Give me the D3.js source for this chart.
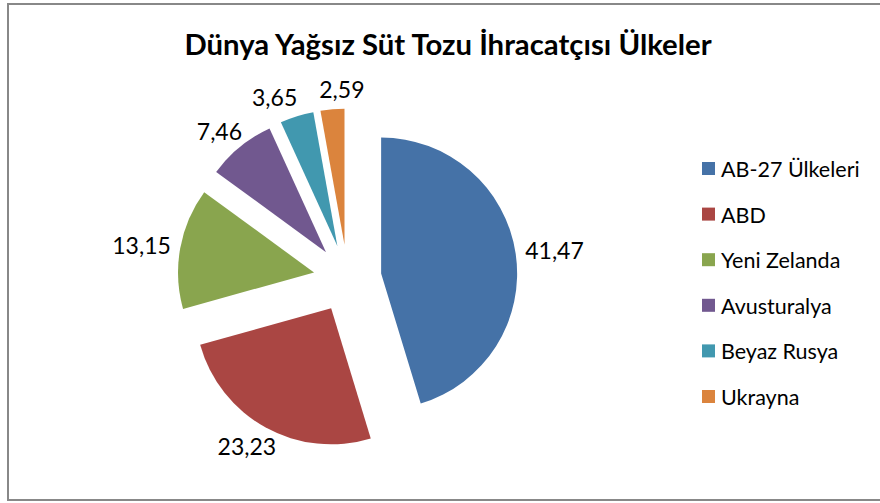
<!DOCTYPE html>
<html>
<head>
<meta charset="utf-8">
<script src="https://cdn.jsdelivr.net/npm/d3@7"></script>
<style>
  body { margin: 0; background: #fff; }
  text { font-family: Lato, "Open Sans", sans-serif; fill: #000; }
</style>
</head>
<body>
<div id="chart"></div>
<script>
// Dünya yağsız süt tozu ihracatçısı ülkeler (pay, %)
var countries = ["AB-27 Ülkeleri", "ABD", "Yeni Zelanda", "Avusturalya", "Beyaz Rusya", "Ukrayna"];
var shares = [41.47, 23.23, 13.15, 7.46, 3.65, 2.59];
var colors = ["#4572A7", "#AA4643", "#89A54E", "#71588F", "#4198AF", "#DB843D"];
var titleText = "Dünya Yağsız Süt Tozu İhracatçısı Ülkeler";

var svgW = 880;
var svgH = 503;

var svg = d3.select("#chart")
  .append("svg")
  .attr("width", svgW)
  .attr("height", svgH);

// chart area border
svg.append("rect")
  .attr("x", 8)
  .attr("y", 4)
  .attr("width", svgW + 20)
  .attr("height", 496)
  .attr("fill", "#fff")
  .attr("stroke", "#888")
  .attr("stroke-width", 2);

// title
svg.append("text")
  .attr("x", 448)
  .attr("y", 55)
  .attr("text-anchor", "middle")
  .attr("font-size", "29.3px")
  .attr("font-weight", "bold")
  .text(titleText);

// pie
var cx = 347.5, cy = 278.5;
var radius = 136;
var explode = 34;

var pie = d3.pie().sort(null).value(d => d);
var arc = d3.arc().innerRadius(0).outerRadius(radius);
var slices = pie(shares);

function mid(d) { return (d.startAngle + d.endAngle) / 2; }

var pieGroup = svg.append("g")
  .attr("transform", `translate(${cx}, ${cy})`);

pieGroup.selectAll("path")
  .data(slices)
  .enter()
  .append("path")
  .attr("d", arc)
  .attr("fill", (d, i) => colors[i])
  .attr("transform", d => {
    var a = mid(d);
    return `translate(${explode * Math.sin(a)}, ${-explode * Math.cos(a)})`;
  });

// data labels (outside end)
var labels = pieGroup.selectAll("text.lbl")
  .data(slices)
  .enter()
  .append("text")
  .attr("class", "lbl")
  .attr("font-size", "23px")
  .attr("text-anchor", "middle")
  .attr("dominant-baseline", "central")
  .text(d => d3.format(".2f")(d.data).replace(".", ","));

var boxes = [];
labels.each(function (d) {
  var a = mid(d);
  var w = this.getComputedTextLength();
  var h = 17;
  var rr = explode + radius + 10;
  boxes.push({
    node: this,
    w: w,
    h: h,
    x: rr * Math.sin(a) + (w / 2) * Math.sin(a),
    y: -rr * Math.cos(a) - (h / 2 + 2) * Math.cos(a)
  });
});

// push overlapping labels apart sideways
var gap = 22;
for (var k = 0; k < 5; k++) {
  for (var i = 0; i < boxes.length; i++) {
    for (var j = i + 1; j < boxes.length; j++) {
      var p = boxes[i], q = boxes[j];
      if (Math.abs(p.y - q.y) > (p.h + q.h) / 2) continue;
      var need = (p.w + q.w) / 2 + gap - Math.abs(p.x - q.x);
      if (need > 0) {
        var s = p.x < q.x ? -1 : 1;
        p.x += s * need / 2;
        q.x -= s * need / 2;
      }
    }
  }
}
boxes.forEach(b => d3.select(b.node).attr("x", b.x).attr("y", b.y));

// legend
var legend = svg.append("g")
  .attr("transform", "translate(702, 169)");

var rows = legend.selectAll("g")
  .data(countries)
  .enter()
  .append("g")
  .attr("transform", (d, i) => `translate(0, ${i * 45.6})`);

rows.append("rect")
  .attr("x", 0)
  .attr("y", -7)
  .attr("width", 13)
  .attr("height", 13)
  .attr("fill", (d, i) => colors[i]);

rows.append("text")
  .attr("x", 19)
  .attr("y", 0)
  .attr("dominant-baseline", "central")
  .attr("font-size", "21.5px")
  .text(d => d);
</script>
</body>
</html>
